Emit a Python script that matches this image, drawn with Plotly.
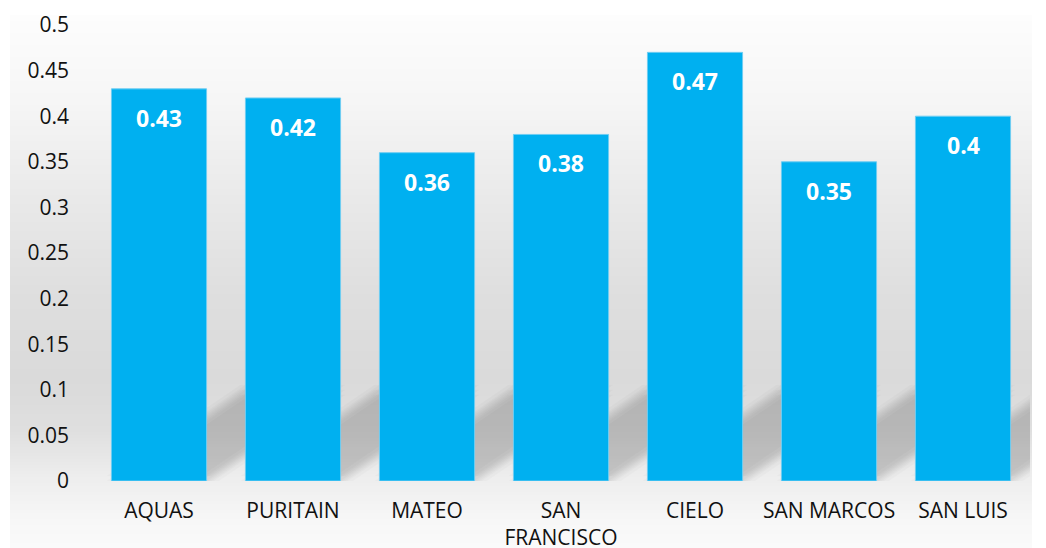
import numpy as np
import plotly.graph_objects as go

# ---------------- data ----------------
categories = ["AQUAS", "PURITAIN", "MATEO", "SAN<br>FRANCISCO", "CIELO", "SAN MARCOS", "SAN LUIS"]
values = [0.43, 0.42, 0.36, 0.38, 0.47, 0.35, 0.40]
y_tickvals = [0, 0.05, 0.1, 0.15, 0.2, 0.25, 0.3, 0.35, 0.4, 0.45, 0.5]
y_ticktext = ["0", "0.05", "0.1", "0.15", "0.2", "0.25", "0.3", "0.35", "0.4", "0.45", "0.5"]

# ---------------- style ----------------
W, H = 1046, 548
M_L, M_R, M_T, M_B = 92, 16, 25, 67
PLOT_W = W - M_L - M_R
PLOT_H = H - M_T - M_B
BAR_COLOR = "#00B0F0"
BAR_WIDTH = 0.71
FONT = "Open Sans"

# background gradient (pixel y, gray level)
grad_stops_y = [15, 100, 200, 300, 380, 430, 480, 520, 548]
grad_stops_g = [253, 246, 233, 222, 218, 223, 238, 247, 250]
PANEL_X0, PANEL_X1 = 10, 1032

# shadow geometry (category units, data units)
SH_DX = 1.0
SH_DY = 0.1

fig = go.Figure()
fig.add_trace(go.Bar(
    x=categories, y=values, width=BAR_WIDTH,
    marker=dict(color=BAR_COLOR, line=dict(color="#6fcdf2", width=1)),
    hoverinfo="x+y",
))

shapes = []
def px2paper_y(py):
    return (H - M_B - py) / PLOT_H

def px2paper_x(px):
    return (px - M_L) / PLOT_W

step = 3
for py in range(grad_stops_y[0], H, step):
    g = int(round(np.interp(py + step / 2, grad_stops_y, grad_stops_g)))
    shapes.append(dict(
        type="rect", xref="paper", yref="paper",
        x0=px2paper_x(PANEL_X0), x1=px2paper_x(PANEL_X1),
        y0=px2paper_y(py + step), y1=px2paper_y(py),
        fillcolor=f"rgb({g},{g},{g})", line=dict(width=0), layer="below",
    ))

# soft perspective shadows behind bars
px_x = 1.0 / (PLOT_W / len(categories))
px_y = 0.5 / PLOT_H
offsets = [(-5, -5), (-5, 0), (-5, 5), (0, -5), (0, 0), (0, 5), (5, -5), (5, 0), (5, 5)]
for i, v in enumerate(values):
    x0 = i - BAR_WIDTH / 2
    x1 = i + BAR_WIDTH / 2
    for ox, oy in offsets:
        dx = ox * px_x
        dy = oy * px_y
        path = (f"M {x0 + dx},{0 + dy} L {x1 + dx},{0 + dy} "
                f"L {x1 + SH_DX + dx},{SH_DY + dy} L {x0 + SH_DX + dx},{SH_DY + dy} Z")
        shapes.append(dict(
            type="path", xref="x", yref="y", path=path,
            fillcolor="rgba(0,0,0,0.018)", line=dict(width=0), layer="below",
        ))

annotations = []
for c, v in zip(categories, values):
    annotations.append(dict(
        x=c, y=v, xref="x", yref="y", text=f"<b>{v:g}</b>", showarrow=False,
        yanchor="middle", yshift=-29,
        font=dict(family=FONT, size=23, color="white"),
    ))

fig.update_layout(
    width=W, height=H,
    margin=dict(l=M_L, r=M_R, t=M_T, b=M_B, pad=0, autoexpand=False),
    paper_bgcolor="white",
    plot_bgcolor="rgba(0,0,0,0)",
    shapes=shapes,
    annotations=annotations,
    showlegend=False,
    bargap=0.29,
    font=dict(family=FONT, size=21, color="#111111"),
    xaxis=dict(
        type="category", showgrid=False, zeroline=False, showline=False,
        range=[-0.5, len(categories) - 0.5], autorange=False, automargin=False,
        ticks="", tickfont=dict(family=FONT, size=21, color="#111111"),
        ticklabelstandoff=15,
    ),
    yaxis=dict(
        range=[0, 0.5], autorange=False, automargin=False,
        tickvals=y_tickvals, ticktext=y_ticktext,
        showgrid=False, zeroline=False, showline=False, ticks="",
        tickfont=dict(family=FONT, size=21, color="#111111"),
        ticklabelstandoff=22,
    ),
)

fig.write_html("out.html")
